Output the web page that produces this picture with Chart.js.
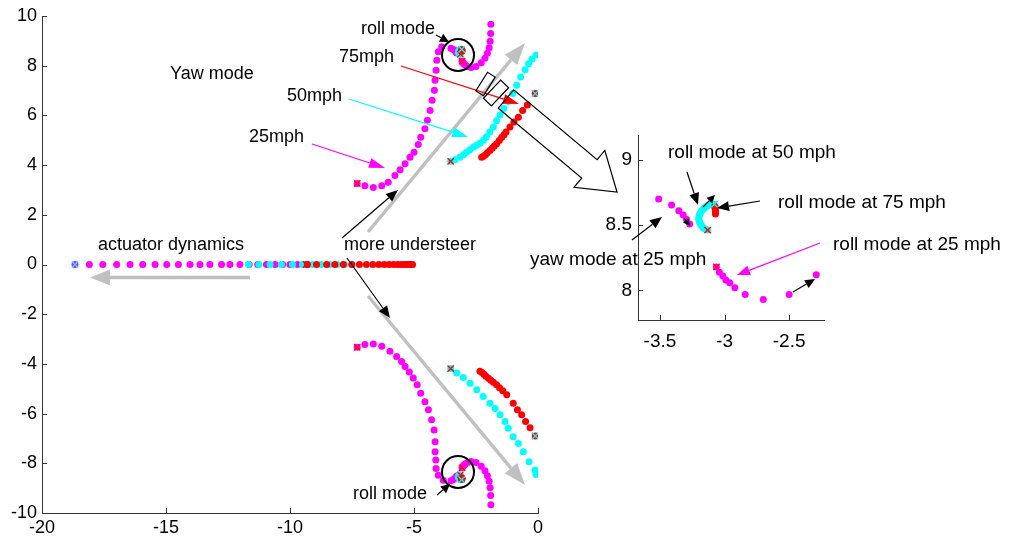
<!DOCTYPE html>
<html>
<head>
<meta charset="utf-8">
<script src="https://cdn.jsdelivr.net/npm/chart.js@4"></script>
<style>
  html, body { margin: 0; padding: 0; background: #fff; }
  #wrap { position: relative; width: 1009px; height: 537px; overflow: hidden; }
  #main { position: absolute; left: 0; top: 0; width: 1009px; height: 537px; }
  #inset { position: absolute; left: 520px; top: 110px; width: 489px; height: 250px; }
</style>
</head>
<body>
<div id="wrap">
  <canvas id="main" width="1009" height="537"></canvas>
  <canvas id="inset" width="489" height="250"></canvas>
</div>
<script>
// axis ticks
const xTicksMain = [-20, -15, -10, -5, 0];
const yTicksMain = [-10, -8, -6, -4, -2, 0, 2, 4, 6, 8, 10];
const xTicksInset = [-3.5, -3, -2.5];
const yTicksInset = [8, 8.5, 9];

// real-axis (actuator) poles, x only
const real25 = [-18.67, -18.09, -17.55, -16.99, -16.45, -15.94, -15.44, -14.97, -14.5, -14.03, -13.63, -13.23,
  -12.76, -12.42, -12.02, -11.65, -11.3, -10.95, -10.6, -10.3, -10.0, -9.7, -9.4];
const real50 = [-11.68, -11.25, -10.8, -10.35, -9.9, -9.5, -9.1, -8.75, -8.4, -8.1, -7.8, -7.5];
const real75 = [-9.3, -8.93, -8.52, -8.19, -7.85, -7.51, -7.2, -6.92, -6.66, -6.42, -6.2, -6.0, -5.82,
  -5.66, -5.52, -5.4, -5.3, -5.22, -5.15, -5.1, -5.06];

// 25 mph
const yaw25Upper = [[-7.29, 3.26], [-6.98, 3.17], [-6.64, 3.1], [-6.3, 3.17], [-6.04, 3.31], [-5.77, 3.58],
  [-5.56, 3.81], [-5.36, 4.05], [-5.16, 4.32], [-5.0, 4.52], [-4.83, 4.83], [-4.73, 5.12], [-4.56, 5.46],
  [-4.46, 5.8], [-4.35, 6.2], [-4.27, 6.61], [-4.18, 7.01], [-4.15, 7.41], [-4.11, 7.82], [-4.08, 8.22],
  [-4.02, 8.56], [-3.88, 8.76], [-3.51, 8.7], [-3.41, 8.654], [-3.354, 8.61], [-3.32, 8.577], [-3.295, 8.546],
  [-3.27, 8.508]];
const yaw25Lower = [[-7.29, -3.33], [-6.98, -3.22], [-6.64, -3.2], [-6.3, -3.29], [-5.97, -3.49], [-5.7, -3.7],
  [-5.5, -3.9], [-5.36, -4.1], [-5.19, -4.33], [-5.03, -4.57], [-4.87, -4.84], [-4.73, -5.18], [-4.56, -5.52],
  [-4.42, -5.85], [-4.29, -6.25], [-4.19, -6.66], [-4.15, -7.13], [-4.15, -7.54], [-4.12, -7.87], [-4.11, -8.21],
  [-4.02, -8.48], [-3.82, -8.68], [-3.51, -8.7], [-3.41, -8.654], [-3.354, -8.61], [-3.32, -8.577],
  [-3.295, -8.546], [-3.27, -8.508]];
const roll25Upper = [[-3.063, 8.18], [-3.04, 8.14], [-3.013, 8.11], [-2.99, 8.08], [-2.96, 8.06], [-2.92, 8.02],
  [-2.84, 7.97], [-2.7, 7.93], [-2.5, 7.97], [-2.29, 8.12], [-2.14, 8.3], [-2.04, 8.5], [-1.97, 8.72],
  [-1.93, 8.98], [-1.91, 9.3], [-1.9, 9.67]];
const roll25Lower = [[-3.063, -8.18], [-3.04, -8.14], [-3.013, -8.11], [-2.99, -8.08], [-2.96, -8.06],
  [-2.92, -8.02], [-2.84, -7.97], [-2.7, -7.93], [-2.5, -7.97], [-2.29, -8.12], [-2.14, -8.3], [-2.04, -8.5],
  [-1.97, -8.72], [-1.93, -8.98], [-1.91, -9.3], [-1.9, -9.67]];

// 50 mph
const yaw50Upper = [[-3.52, 4.15], [-3.35, 4.22], [-3.15, 4.32], [-3.0, 4.42], [-2.88, 4.52], [-2.75, 4.62],
  [-2.61, 4.72], [-2.47, 4.8], [-2.34, 4.88], [-2.2, 5.0], [-2.08, 5.14], [-1.94, 5.33], [-1.8, 5.53],
  [-1.67, 5.78], [-1.53, 6.02], [-1.38, 6.28], [-1.2, 6.56], [-1.02, 6.88], [-0.86, 7.21], [-0.7, 7.55],
  [-0.52, 7.84], [-0.38, 8.08], [-0.24, 8.27], [-0.08, 8.43]];
const yaw50Lower = [[-3.52, -4.19], [-3.28, -4.37], [-3.01, -4.55], [-2.74, -4.78], [-2.47, -5.04],
  [-2.21, -5.31], [-1.94, -5.58], [-1.73, -5.79], [-1.53, -6.05], [-1.33, -6.32], [-1.2, -6.59], [-1.0, -6.93],
  [-0.79, -7.2], [-0.59, -7.54], [-0.36, -7.94], [-0.12, -8.27], [-0.08, -8.45]];
const roll50Upper = [[-3.131, 8.462], [-3.15, 8.47], [-3.165, 8.48], [-3.18, 8.5], [-3.19, 8.515], [-3.196, 8.53],
  [-3.2, 8.545], [-3.198, 8.56], [-3.195, 8.577], [-3.186, 8.595], [-3.177, 8.61], [-3.165, 8.623],
  [-3.152, 8.636], [-3.136, 8.646], [-3.119, 8.654], [-3.1, 8.658], [-3.083, 8.66]];
const roll50Lower = [[-3.131, -8.462], [-3.15, -8.47], [-3.165, -8.48], [-3.18, -8.5], [-3.19, -8.515],
  [-3.196, -8.53], [-3.2, -8.545], [-3.198, -8.56], [-3.195, -8.577], [-3.186, -8.595], [-3.177, -8.61],
  [-3.165, -8.623], [-3.152, -8.636], [-3.136, -8.646], [-3.119, -8.654], [-3.1, -8.658], [-3.083, -8.66]];

// 75 mph
const yaw75Upper = [[-2.27, 4.32], [-2.2, 4.36], [-2.12, 4.42], [-2.04, 4.5], [-1.94, 4.59], [-1.85, 4.68],
  [-1.76, 4.77], [-1.67, 4.86], [-1.56, 4.99], [-1.46, 5.12], [-1.37, 5.22], [-1.29, 5.33], [-1.13, 5.53],
  [-0.97, 5.73], [-0.79, 5.93], [-0.62, 6.2], [-0.43, 6.42], [-0.11, 6.88]];
const yaw75Lower = [[-2.34, -4.3], [-2.26, -4.35], [-2.18, -4.42], [-2.1, -4.5], [-2.0, -4.58], [-1.9, -4.66],
  [-1.8, -4.74], [-1.67, -4.84], [-1.55, -4.96], [-1.42, -5.08], [-1.26, -5.24], [-1.0, -5.58], [-0.83, -5.85],
  [-0.66, -6.05], [-0.5, -6.32], [-0.32, -6.57], [-0.11, -6.9]];
const roll75Upper = [[-3.075, 8.645], [-3.073, 8.63], [-3.071, 8.615], [-3.07, 8.6], [-3.07, 8.585]];
const roll75Lower = [[-3.075, -8.645], [-3.073, -8.63], [-3.071, -8.615], [-3.07, -8.6], [-3.07, -8.585]];

// marks
const poleMarks = [[-7.29, 3.26], [-7.29, -3.33], [-3.52, 4.15], [-3.52, -4.19], [-3.063, 8.18], [-3.063, -8.18],
  [-3.131, 8.462], [-3.131, -8.462], [-9.35, 0], [-0.11, 6.88], [-0.11, -6.9]];
const zeroMarks = [[-18.67, 0], [-3.078, 8.66], [-3.078, -8.66], [-0.11, 6.88], [-0.11, -6.9]];

const MAGENTA = '#ff00ff', CYAN = '#00ffff', RED = '#ff0000';
const FONT = 'Arial, "Liberation Sans", Helvetica, sans-serif';

const pts = arr => arr.map(p => ({ x: p[0], y: p[1] }));
const onAxis = xs => xs.map(x => ({ x: x, y: 0 }));

function dots(data, color) {
    return { data: data, backgroundColor: color, borderWidth: 0, pointRadius: 3.5, pointHoverRadius: 3.5 };
}
function crosses(data, color) {
    return { data: data, pointStyle: 'crossRot', borderColor: color, backgroundColor: color,
        borderWidth: 1.3, pointRadius: 4.5, pointHoverRadius: 4.5 };
}

// first dataset is drawn on top
function buildDatasets() {
    return [
        crosses(pts(zeroMarks), CYAN),
        crosses(pts(poleMarks), RED),
        dots(pts(roll75Upper), RED),
        dots(pts(roll75Lower), RED),
        dots(pts(yaw75Upper), RED),
        dots(pts(yaw75Lower), RED),
        dots(onAxis(real75), RED),
        dots(pts(roll50Upper), CYAN),
        dots(pts(roll50Lower), CYAN),
        dots(pts(yaw50Upper), CYAN),
        dots(pts(yaw50Lower), CYAN),
        dots(onAxis(real50), CYAN),
        dots(pts(roll25Upper), MAGENTA),
        dots(pts(roll25Lower), MAGENTA),
        dots(pts(yaw25Upper), MAGENTA),
        dots(pts(yaw25Lower), MAGENTA),
        dots(onAxis(real25), MAGENTA)
    ];
}

function axisOpts(min, max, ticks, fontSize, pad, fit) {
    return {
        type: 'linear', min: min, max: max,
        afterBuildTicks: s => { s.ticks = ticks.map(v => ({ value: v })); },
        afterFit: fit,
        grid: { display: false, drawTicks: false },
        border: { display: true, color: '#333', width: 1 },
        ticks: { color: '#000', padding: pad, font: { family: FONT, size: fontSize }, callback: v => String(v) }
    };
}

// small inward tick marks, like the original plot
const inwardTicks = {
    id: 'inwardTicks',
    afterDraw(chart) {
        const { ctx, chartArea: a, scales: { x, y } } = chart;
        ctx.save();
        ctx.strokeStyle = '#333';
        ctx.lineWidth = 1;
        ctx.beginPath();
        x.ticks.forEach(t => {
            const px = Math.round(x.getPixelForValue(t.value)) + 0.5;
            ctx.moveTo(px, a.bottom); ctx.lineTo(px, a.bottom - 5);
        });
        y.ticks.forEach(t => {
            const py = Math.round(y.getPixelForValue(t.value)) + 0.5;
            ctx.moveTo(a.left, py); ctx.lineTo(a.left + 5, py);
        });
        ctx.stroke();
        ctx.restore();
    }
};

function arrow(ctx, x1, y1, x2, y2, color, lw, hl, hw) {
    const a = Math.atan2(y2 - y1, x2 - x1);
    const bx = x2 - hl * Math.cos(a), by = y2 - hl * Math.sin(a);
    ctx.strokeStyle = color;
    ctx.fillStyle = color;
    ctx.lineWidth = lw;
    ctx.beginPath(); ctx.moveTo(x1, y1); ctx.lineTo(bx, by); ctx.stroke();
    ctx.beginPath();
    ctx.moveTo(x2, y2);
    ctx.lineTo(bx - hw * Math.sin(a), by + hw * Math.cos(a));
    ctx.lineTo(bx + hw * Math.sin(a), by - hw * Math.cos(a));
    ctx.closePath();
    ctx.fill();
}

function text(ctx, str, x, y, size) {
    ctx.fillStyle = '#000';
    ctx.font = size + 'px ' + FONT;
    ctx.textAlign = 'left';
    ctx.textBaseline = 'middle';
    ctx.fillText(str, x, y);
}

function box(ctx, cx, cy, ux, uy, len, wid) {
    const n = Math.hypot(ux, uy); ux /= n; uy /= n;
    const vx = -uy, vy = ux;
    const hl = len / 2, hw = wid / 2;
    ctx.beginPath();
    ctx.moveTo(cx + ux * hl + vx * hw, cy + uy * hl + vy * hw);
    ctx.lineTo(cx - ux * hl + vx * hw, cy - uy * hl + vy * hw);
    ctx.lineTo(cx - ux * hl - vx * hw, cy - uy * hl - vy * hw);
    ctx.lineTo(cx + ux * hl - vx * hw, cy + uy * hl - vy * hw);
    ctx.closePath();
    ctx.stroke();
}

function hollowArrow(ctx, sx, sy, tx, ty, w, L, H) {
    const len = Math.hypot(tx - sx, ty - sy);
    const dx = (tx - sx) / len, dy = (ty - sy) / len;
    const nx = -dy, ny = dx;
    const bx = tx - L * dx, by = ty - L * dy;
    ctx.beginPath();
    ctx.moveTo(sx + w * nx, sy + w * ny);
    ctx.lineTo(bx + w * nx, by + w * ny);
    ctx.lineTo(bx + H * nx, by + H * ny);
    ctx.lineTo(tx, ty);
    ctx.lineTo(bx - H * nx, by - H * ny);
    ctx.lineTo(bx - w * nx, by - w * ny);
    ctx.lineTo(sx - w * nx, sy - w * ny);
    ctx.closePath();
    ctx.stroke();
}

const mainNotes = {
    id: 'mainNotes',
    afterDatasetsDraw(chart) {
        const ctx = chart.ctx;
        ctx.save();
        // grey direction arrows
        arrow(ctx, 368, 232, 525, 43, '#c0c0c0', 3.5, 22, 8);
        arrow(ctx, 368, 296, 525, 485, '#c0c0c0', 3.5, 22, 8);
        arrow(ctx, 250, 277.5, 90, 277.5, '#c0c0c0', 3.5, 20, 8);
        // black pointers
        arrow(ctx, 342, 238, 398, 190, '#000', 1.2, 12, 5);
        arrow(ctx, 347, 258, 390, 318, '#000', 1.2, 12, 5);
        arrow(ctx, 436, 35, 449, 42, '#000', 1.2, 9, 4.5);
        arrow(ctx, 437, 495, 450, 484, '#000', 1.2, 9, 4.5);
        // speed pointers
        arrow(ctx, 401, 66, 519, 104, RED, 1.2, 16, 5);
        arrow(ctx, 349, 99, 468, 137, CYAN, 1.2, 16, 5);
        arrow(ctx, 312, 144, 385, 168, MAGENTA, 1.2, 16, 5);
        // roll mode circles
        ctx.strokeStyle = '#000';
        ctx.lineWidth = 2;
        ctx.beginPath(); ctx.arc(458, 55, 16, 0, Math.PI * 2); ctx.stroke();
        ctx.beginPath(); ctx.arc(458, 472, 16, 0, Math.PI * 2); ctx.stroke();
        // zoom boxes and big hollow arrow
        ctx.lineWidth = 1.2;
        box(ctx, 485.5, 84, 0.53, -0.84, 22, 9);
        box(ctx, 496, 93, 0.69, -0.72, 25, 11);
        hollowArrow(ctx, 506, 99, 617, 192, 12, 36, 24);
        // labels
        text(ctx, 'roll mode', 361, 29, 18);
        text(ctx, '75mph', 339, 57, 18);
        text(ctx, 'Yaw mode', 170, 74, 18);
        text(ctx, '50mph', 287, 96, 18);
        text(ctx, '25mph', 249, 137, 18);
        text(ctx, 'actuator dynamics', 98, 245, 18);
        text(ctx, 'more understeer', 344, 245, 18);
        text(ctx, 'roll mode', 353, 494, 18);
        ctx.restore();
    }
};

// page coords minus inset canvas origin (520, 110)
const insetNotes = {
    id: 'insetNotes',
    afterDatasetsDraw(chart) {
        const ctx = chart.ctx;
        ctx.save();
        ctx.translate(-520, -110);
        arrow(ctx, 687, 172, 698, 205, '#000', 1.2, 12, 5);
        arrow(ctx, 703, 207, 715, 195, '#000', 1.2, 8, 4);
        arrow(ctx, 760, 201, 717, 208, '#000', 1.2, 12, 5);
        arrow(ctx, 820, 243, 737, 275, MAGENTA, 1.2, 13, 5);
        arrow(ctx, 632, 240, 662, 217, '#000', 1.2, 12, 5);
        arrow(ctx, 684, 218, 690, 226, '#000', 1.2, 7, 3.5);
        arrow(ctx, 793, 292, 815, 279, '#000', 1.2, 10, 4.5);
        text(ctx, 'roll mode at 50 mph', 668, 153, 19);
        text(ctx, 'roll mode at 75 mph', 778, 203, 19);
        text(ctx, 'roll mode at 25 mph', 833, 245, 19);
        text(ctx, 'yaw mode at 25 mph', 530, 260, 19);
        ctx.restore();
    }
};

const common = {
    responsive: false,
    animation: false,
    events: [],
    plugins: { legend: { display: false }, tooltip: { enabled: false } }
};

new Chart(document.getElementById('main').getContext('2d'), {
    type: 'scatter',
    data: { datasets: buildDatasets() },
    options: Object.assign({}, common, {
        layout: { padding: { left: 0, right: 471, top: 16, bottom: 0 } },
        scales: {
            x: axisOpts(-20, 0, xTicksMain, 18, 4, s => { s.height = 24; }),
            y: axisOpts(-10, 10, yTicksMain, 18, 5, s => { s.width = 42; })
        }
    }),
    plugins: [inwardTicks, mainNotes]
});

new Chart(document.getElementById('inset').getContext('2d'), {
    type: 'scatter',
    data: { datasets: buildDatasets() },
    options: Object.assign({}, common, {
        layout: { padding: { left: 68, right: 185, top: 25, bottom: 0 } },
        scales: {
            x: axisOpts(-3.67, -2.23, xTicksInset, 19, 10, s => { s.height = 40; }),
            y: axisOpts(7.774, 9.19, yTicksInset, 19, 6, s => { s.width = 50; })
        }
    }),
    plugins: [inwardTicks, insetNotes]
});
</script>
</body>
</html>
